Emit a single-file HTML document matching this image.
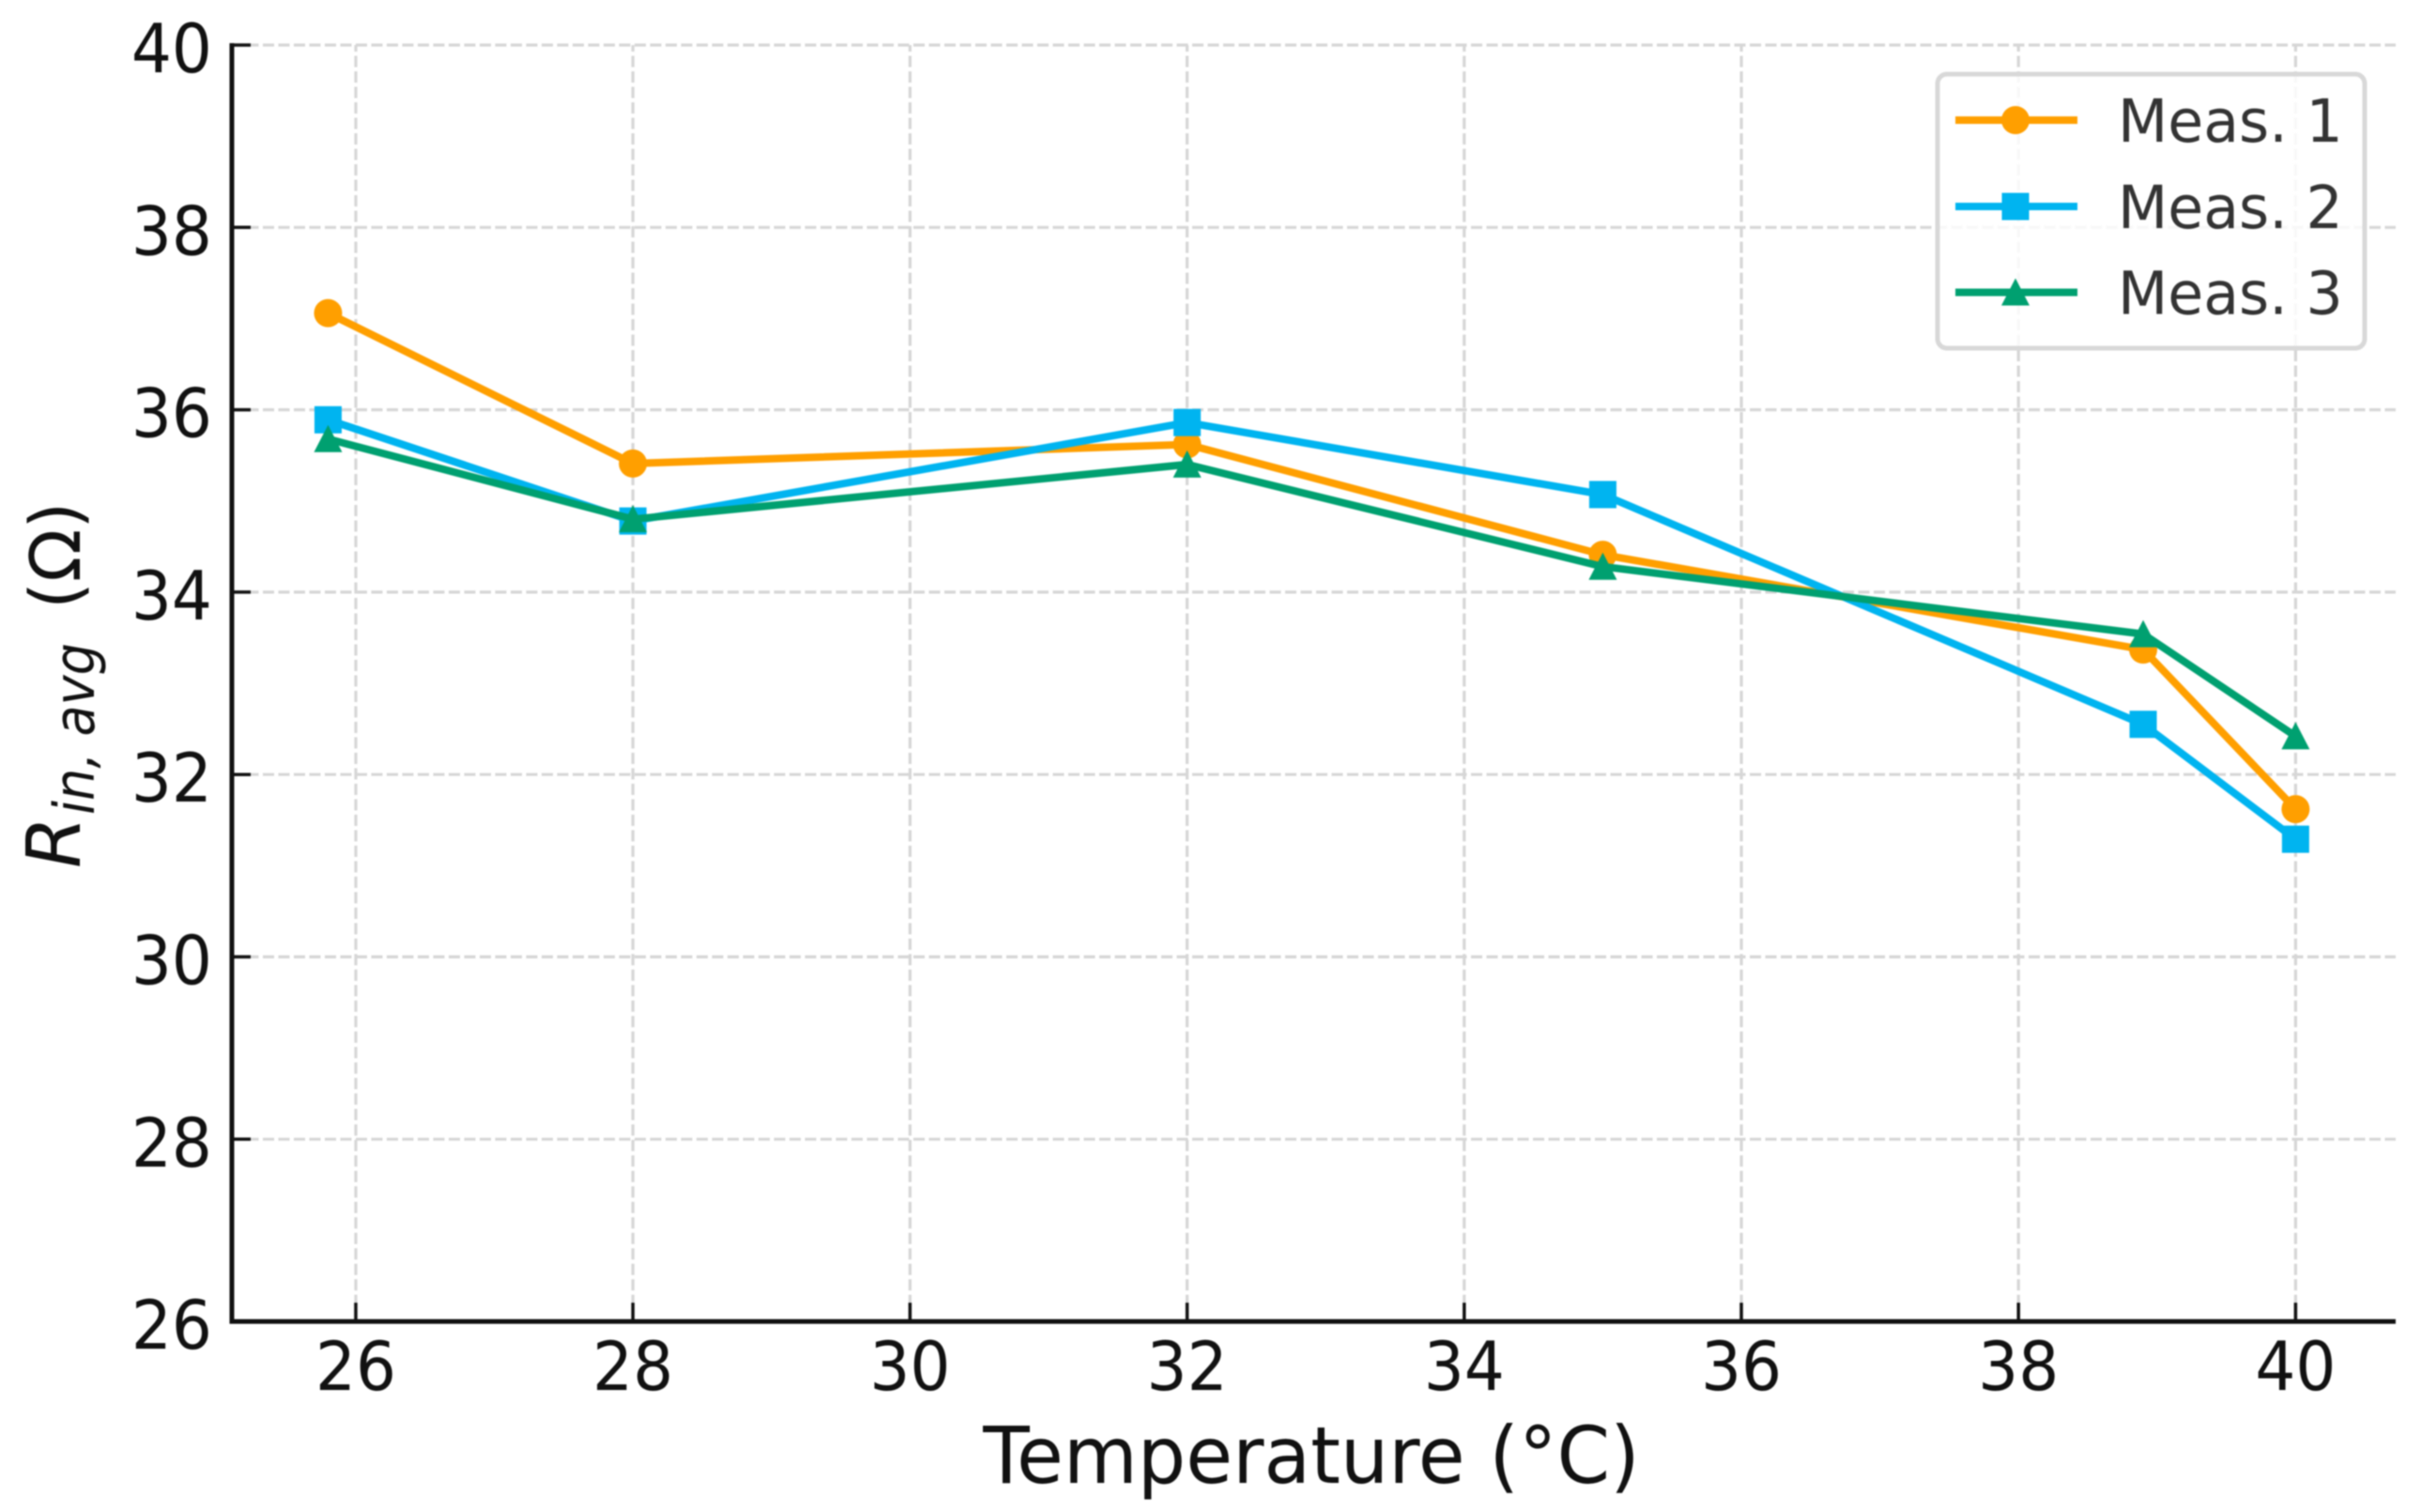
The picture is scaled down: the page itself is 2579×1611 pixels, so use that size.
<!DOCTYPE html>
<html lang="en">
<head>
<meta charset="utf-8">
<title>Rin,avg vs Temperature</title>
<style>
  html, body { margin: 0; padding: 0; background: #fff; }
  svg { display: block; font-family: "DejaVu Sans", "Liberation Sans", sans-serif; }
  #plot-root { filter: blur(0.7px); }
</style>
</head>
<body>
<svg id="chart" xmlns="http://www.w3.org/2000/svg" width="2579" height="1611" viewBox="0 0 2579 1611">
  <rect width="2579" height="1611" fill="#ffffff"/>
  <g id="plot-root">
    <g id="grid"></g>
    <g id="series"></g>
    <g id="axes"></g>
    <text transform="translate(1397 1580) scale(0.965 1)" font-size="84" text-anchor="middle" fill="#111">Temperature (°C)</text>
    <g transform="translate(85 923) rotate(-90)" fill="#111">
      <text x="-2" y="0" font-size="79" font-style="italic">R</text>
      <text transform="translate(55 15) scale(0.9 1)" font-size="60" font-style="italic">in, avg</text>
      <text x="274" y="0" font-size="74">(Ω)</text>
    </g>
    <g id="legend"></g>
  </g>
</svg>
<script>
const temperatures = [25.8, 28, 32, 35, 38.9, 40];
const meas1 = [37.06, 35.41, 35.62, 34.41, 33.37, 31.62];
const meas2 = [35.89, 34.78, 35.86, 35.07, 32.55, 31.29];
const meas3 = [35.68, 34.80, 35.40, 34.28, 33.54, 32.42];
const xTicks = [26, 28, 30, 32, 34, 36, 38, 40];
const yTicks = [26, 28, 30, 32, 34, 36, 38, 40];
const seriesNames = ['Meas. 1', 'Meas. 2', 'Meas. 3'];

const NS = 'http://www.w3.org/2000/svg';
const xScale = t => 379 + (t - 26) * 147.6;
const yScale = v => 48 + (40 - v) * 97.15;
const AX_LEFT = 247, AX_RIGHT = 2552, AX_TOP = 48, AX_BOTTOM = 1408;

function make(tag, attrs, parent) {
  const el = document.createElementNS(NS, tag);
  for (const k in attrs) el.setAttribute(k, attrs[k]);
  parent.appendChild(el);
  return el;
}
function drawMarker(kind, cx, cy, color, parent) {
  let el;
  if (kind === 'circle') {
    el = make('circle', { cx: cx, cy: cy, r: 15, fill: color }, parent);
  } else if (kind === 'square') {
    el = make('rect', { x: cx - 14.5, y: cy - 14.5, width: 29, height: 29, fill: color }, parent);
  } else {
    el = make('polygon', { points: [cx, cy - 15, cx + 15, cy + 14, cx - 15, cy + 14].join(','), fill: color }, parent);
  }
  return el;
}

const gridLayer = document.getElementById('grid');
const seriesLayer = document.getElementById('series');
const axesLayer = document.getElementById('axes');
const legendLayer = document.getElementById('legend');
const gridStyle = { stroke: '#d6d6d6', 'stroke-width': 3.2, 'stroke-dasharray': '12 4.5', fill: 'none' };

xTicks.forEach(t => {
  const g = make('line', Object.assign({ x1: xScale(t), x2: xScale(t), y1: AX_BOTTOM, y2: AX_TOP }, gridStyle), gridLayer);
  
  
});
yTicks.forEach(v => {
  const g = make('line', Object.assign({ x1: AX_LEFT, x2: AX_RIGHT, y1: yScale(v), y2: yScale(v) }, gridStyle), gridLayer);
  
  
});

const seriesValues = [meas1, meas2, meas3];
const seriesColors = ['#ff9f00', '#00b4f0', '#00a070'];
const seriesMarkers = ['circle', 'square', 'triangle'];

seriesValues.forEach((vals, i) => {
  const pts = vals.map((v, j) => xScale(temperatures[j]) + ',' + yScale(v)).join(' ');
  const line = make('polyline', { points: pts, fill: 'none', stroke: seriesColors[i], 'stroke-width': 8, 'stroke-linejoin': 'round' }, seriesLayer);
  
  
  vals.forEach((v, j) => {
    const m = drawMarker(seriesMarkers[i], xScale(temperatures[j]), yScale(v), seriesColors[i], seriesLayer);
    
    
  });
});

const spineLeft = make('line', { x1: AX_LEFT, x2: AX_LEFT, y1: AX_TOP - 2, y2: AX_BOTTOM + 2.5, stroke: '#111', 'stroke-width': 5 }, axesLayer);


const spineBottom = make('line', { x1: AX_LEFT - 2.5, x2: AX_RIGHT, y1: AX_BOTTOM, y2: AX_BOTTOM, stroke: '#111', 'stroke-width': 5 }, axesLayer);



xTicks.forEach(t => {
  const tick = make('line', { x1: xScale(t), x2: xScale(t), y1: AX_BOTTOM, y2: AX_BOTTOM - 20, stroke: '#111', 'stroke-width': 3.5 }, axesLayer);
  
  
  const label = make('text', { transform: 'translate(' + xScale(t) + ' 1481) scale(0.94 1)', 'font-size': 72, 'text-anchor': 'middle', fill: '#111' }, axesLayer);
  label.textContent = t;
  
  
});
yTicks.forEach(v => {
  const tick = make('line', { x1: AX_LEFT, x2: AX_LEFT + 20, y1: yScale(v), y2: yScale(v), stroke: '#111', 'stroke-width': 3.5 }, axesLayer);
  
  
  const label = make('text', { transform: 'translate(226 ' + (yScale(v) + 29) + ') scale(0.94 1)', 'font-size': 72, 'text-anchor': 'end', fill: '#111' }, axesLayer);
  label.textContent = v;
  
  
});

const legendBox = make('rect', { x: 2064, y: 79, width: 455, height: 292, rx: 10, fill: '#ffffff', 'fill-opacity': 0.82, stroke: '#d8d8d8', 'stroke-width': 5 }, legendLayer);


const legendRowY = [128, 220, 311.5];
seriesNames.forEach((name, i) => {
  const y = legendRowY[i];
  const l = make('line', { x1: 2083, x2: 2213, y1: y, y2: y, stroke: seriesColors[i], 'stroke-width': 8 }, legendLayer);
  
  
  const m = drawMarker(seriesMarkers[i], 2147, y, seriesColors[i], legendLayer);
  
  
  const t = make('text', { transform: 'translate(2256 ' + (y + 23) + ') scale(0.98 1)', 'font-size': 63, fill: '#333' }, legendLayer);
  t.textContent = name;
  
  
});
</script>
</body>
</html>
